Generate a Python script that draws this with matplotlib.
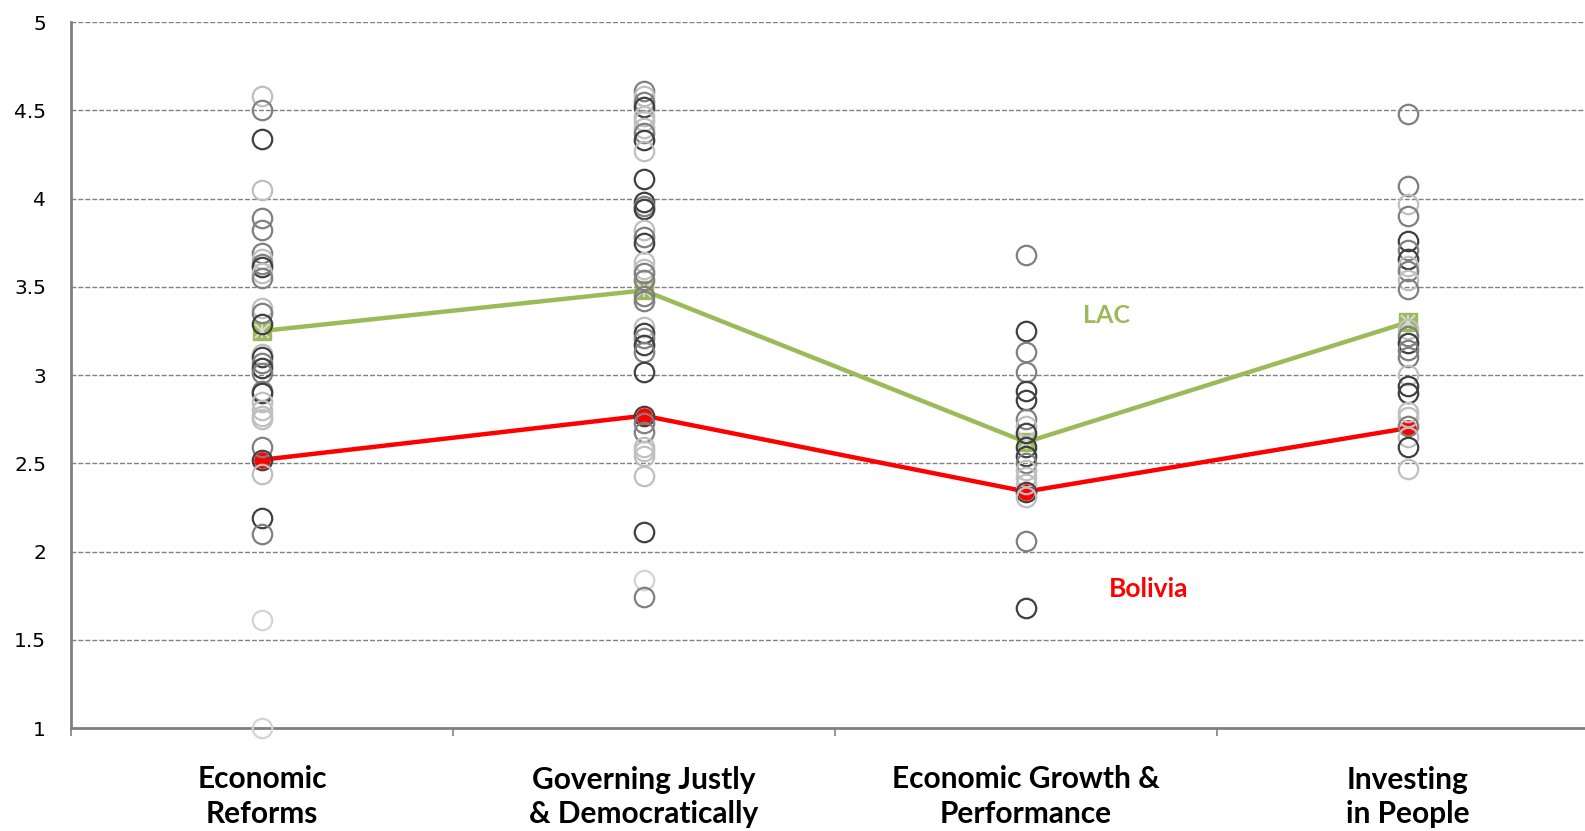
import matplotlib
matplotlib.use("Agg")
import matplotlib.pyplot as plt
from matplotlib.ticker import FixedLocator

categories = ["Economic\nReforms", "Governing Justly\n& Democratically",
              "Economic Growth &\nPerformance", "Investing\nin People"]

# country scores per category, with a grey shade code for each circle
econ_reforms = [4.58, 4.50, 4.34, 4.05, 3.89, 3.82, 3.69, 3.66, 3.63, 3.61, 3.58, 3.55,
                3.38, 3.35, 3.29, 3.12, 3.10, 3.07, 3.04, 3.01, 2.91, 2.90, 2.85, 2.80,
                2.77, 2.75, 2.59, 2.52, 2.44, 2.19, 2.10, 1.61, 1.00]
econ_reforms_shade = "lmdlmmmlmdlmlmdldmdmmdllllmdldmvv"

governing = [4.61, 4.58, 4.55, 4.52, 4.47, 4.44, 4.40, 4.37, 4.33, 4.27, 4.11, 3.98, 3.96,
             3.94, 3.82, 3.78, 3.75, 3.64, 3.60, 3.58, 3.54, 3.45, 3.42, 3.27, 3.24, 3.21,
             3.17, 3.13, 3.02, 2.77, 2.73, 2.68, 2.59, 2.57, 2.54, 2.43, 2.11, 1.84, 1.74]
governing_shade = "mlmdlllmdl" "ddmdlmdllm" "mmmldmdmdd" "mmlllldvm"

growth = [3.68, 3.25, 3.13, 3.02, 2.91, 2.86, 2.75, 2.71, 2.67, 2.59, 2.54, 2.50, 2.46,
          2.42, 2.38, 2.34, 2.31, 2.06, 1.68]
growth_shade = "mdmmddmldddmllldlmd"

investing = [4.48, 4.07, 3.97, 3.90, 3.76, 3.71, 3.66, 3.62, 3.59, 3.54, 3.49, 3.26, 3.22,
             3.18, 3.14, 3.10, 3.00, 2.94, 2.90, 2.79, 2.76, 2.71, 2.65, 2.59, 2.47]
investing_shade = "mmlmdmdlmlmlmdmmlddllmldl"

lac = [3.25, 3.48, 2.62, 3.30]
bolivia = [2.52, 2.77, 2.34, 2.70]

yticks = [1, 1.5, 2, 2.5, 3, 3.5, 4, 4.5, 5]
ytick_labels = ["1", "1.5", "2", "2.5", "3", "3.5", "4", "4.5", "5"]

shade_colors = {"d": "#404040", "m": "#808080", "l": "#bfbfbf", "v": "#d4d4d4"}

W, H = 1585, 831
fig = plt.figure(figsize=(W / 100, H / 100), dpi=100)
ax = fig.add_axes([71 / W, (831 - 728) / H, 1528 / W, (728 - 22.2) / H])

ax.set_xlim(-0.5, 3.5)
ax.set_ylim(1, 5)

# grid
for yv in yticks[1:]:
    ax.axhline(yv, color="#808080", lw=1.0, ls=(0, (3.5, 1.5)), zorder=1)

x = list(range(len(categories)))
ax.plot(x, lac, color="#9BBB59", lw=3.2, zorder=2, solid_capstyle="butt")
ax.plot(x, lac, ls="none", marker="s", ms=13, mfc="#9BBB59", mec="#9BBB59", zorder=2.1)
ax.plot(x, lac, ls="none", marker="x", ms=10, mec="#d9d9d9", mew=1.5, zorder=2.2)
ax.plot(x, lac, ls="none", marker="|", ms=10, mec="#d9d9d9", mew=1.5, zorder=2.2)
ax.plot(x, bolivia, color="#FF0000", lw=3.2, zorder=2, solid_capstyle="butt")
ax.plot(x, bolivia, ls="none", marker="o", ms=11, mfc="#FF0000", mec="#FF0000", zorder=2.1)

series = [(econ_reforms, econ_reforms_shade), (governing, governing_shade),
          (growth, growth_shade), (investing, investing_shade)]
for i, (vals, shades) in enumerate(series):
    for j, v in enumerate(vals):
        c = shade_colors[shades[j] if j < len(shades) else "m"]
        ax.plot([i], [v], ls="none", marker="o", ms=14, mfc="none", mec=c, mew=1.6,
                zorder=3, clip_on=False)

# spines
for s in ["top", "right"]:
    ax.spines[s].set_visible(False)
for s in ["left", "bottom"]:
    ax.spines[s].set_color("#808080")
    ax.spines[s].set_linewidth(2.0)

ax.set_yticks(yticks)
ax.set_yticklabels(ytick_labels, fontsize=14.5, fontfamily="DejaVu Sans")
ax.tick_params(axis="y", length=0, pad=18)

ax.set_xticks(x)
ax.set_xticklabels(categories, fontsize=21.5, fontfamily="Lato", fontweight="bold",
                   linespacing=1.28)
ax.tick_params(axis="x", which="major", length=0, pad=27)
ax.xaxis.set_minor_locator(FixedLocator([-0.5, 0.5, 1.5, 2.5]))
ax.tick_params(axis="x", which="minor", length=6, width=1.2, color="#808080")

ax.text(2.212, 3.335, "LAC", color="#9BBB59", fontsize=18, fontweight="bold",
        fontfamily="Lato", ha="center", va="center")
ax.text(2.322, 1.785, "Bolivia", color="#FF0000", fontsize=19, fontweight="bold",
        fontfamily="Lato", ha="center", va="center")

fig.savefig("out.png", dpi=100)
